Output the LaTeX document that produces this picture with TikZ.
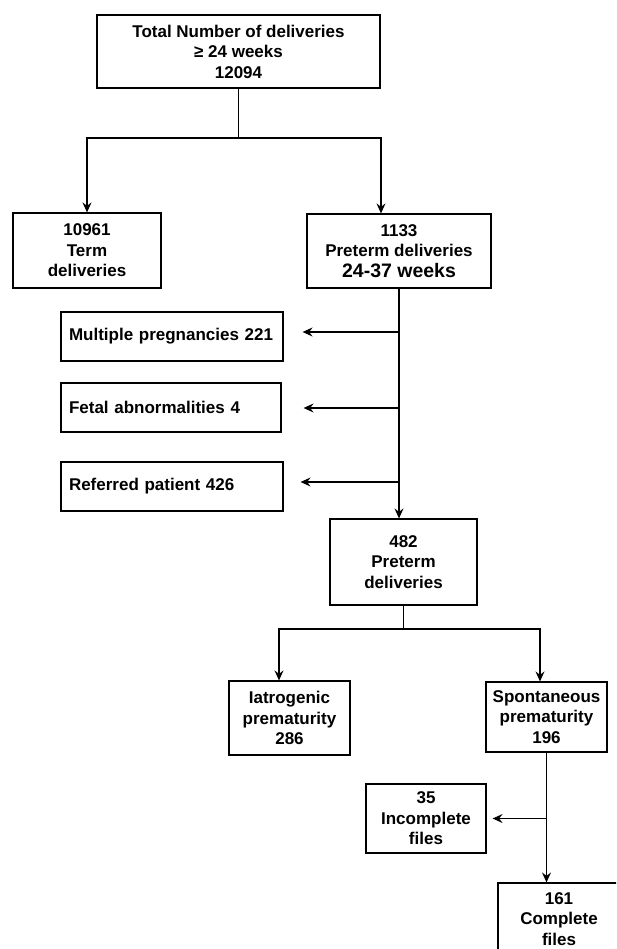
\documentclass[tikz,border=0pt]{standalone}
\usepackage{fontspec}
\setmainfont{Liberation Sans}
\usepackage{tikz}
\usetikzlibrary{arrows.meta,positioning}

\begin{document}
\begin{tikzpicture}[x=1pt, y=-1pt, line width=1.2pt,
    >={Stealth[length=10pt, width=9pt, inset=3.5pt]},
    main/.style = {draw, rectangle, align=center, inner sep=0pt,
        font=\bfseries\fontsize{17}{20.5}\selectfont},
    side/.style = {main, align=left, inner xsep=8pt, minimum height=49pt}]
    \clip (0,0) rectangle (616,949);

    \node[main, minimum width=283pt, minimum height=73pt] (total) at (238.5,51.5)
        {Total Number of deliveries\\≥ 24 weeks\\12094};
    \node[main, minimum width=148pt, minimum height=75pt] (term) at (87,250.5)
        {10961\\Term\\deliveries};
    \node[main, minimum width=184pt, minimum height=74pt] (preterm) at (399,251)
        {1133\\Preterm deliveries\\{\fontsize{19.5}{22}\selectfont 24-37 weeks}};
    \coordinate (split1) at (238.5,138);
    \draw (total.south) -- (split1);
    \draw [->] (split1) -| (term.north);
    \draw [->] (split1) -| ([xshift=-18pt]preterm.north);

    \node[side, text width=206pt] (multi) at (172,336.5) {\mbox{Multiple pregnancies 221}};
    \node[side, text width=204pt] (fetal) at (171,407.5) {\mbox{Fetal abnormalities 4}};
    \node[side, text width=206pt] (referred) at (172,486.5) {\mbox{Referred patient 426}};

    \node[main, minimum width=147pt, minimum height=86pt] (p482) at (403.5,562)
        {482\\Preterm\\deliveries};
    \draw [->] (preterm.south) -- (preterm.south |- p482.north);
    \draw [->] ([yshift=4.5pt]multi.east -| preterm.south) -- ([xshift=19pt, yshift=4.5pt]multi.east);
    \draw [->] ([yshift=-0.5pt]fetal.east -| preterm.south) -- ([xshift=22pt, yshift=-0.5pt]fetal.east);
    \draw [->] ([yshift=4.5pt]referred.east -| preterm.south) -- ([xshift=17pt, yshift=4.5pt]referred.east);

    \node[main, minimum width=121pt, minimum height=74pt] (iatro) at (289.5,718)
        {Iatrogenic\\prematurity\\286};
    \node[main, minimum width=121pt, minimum height=70pt] (spont) at (546.5,717)
        {Spontaneous\\prematurity\\196};
    \coordinate (split2) at (403.5,629);
    \draw (p482.south) -- (split2);
    \draw [->] (split2) -| ([xshift=-10.5pt]iatro.north);
    \draw [->] (split2) -| ([xshift=-6.5pt]spont.north);

    \node[main, minimum width=120pt, minimum height=69pt] (incompl) at (426,818.5)
        {35\\Incomplete\\files};
    \node[main, minimum width=122pt, minimum height=72pt] (compl) at (559,919)
        {161\\Complete\\files};
    \draw [->] (spont.south) -- (spont.south |- compl.north);
    \draw [->] (incompl.east -| spont.south) -- ([xshift=6pt]incompl.east);
\end{tikzpicture}
\end{document}
